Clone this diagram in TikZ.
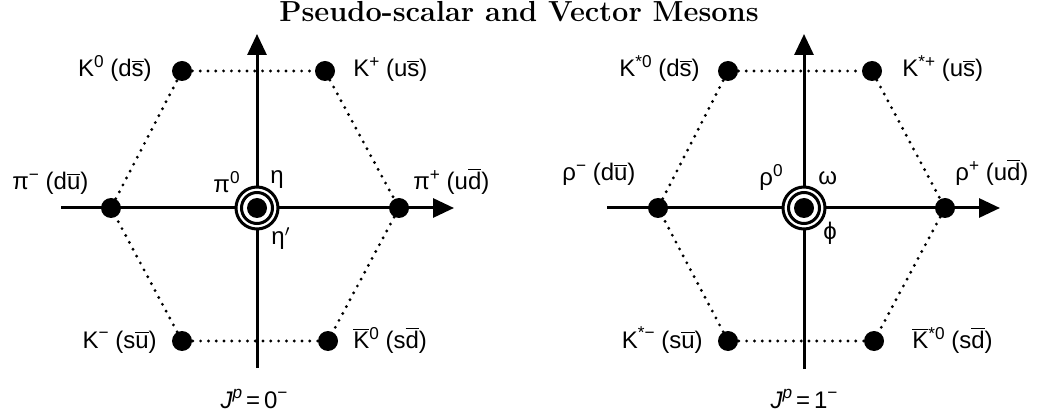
\documentclass[tikz,border=0pt]{standalone}
\usepackage{fontspec}
\usepackage{tikz}
\usetikzlibrary{arrows.meta,positioning}
\newfontfamily\labfont{Liberation Sans}
\newcommand{\qbar}[1]{\ensuremath{\overline{\mbox{#1}}}}
\newcommand{\sups}[1]{\raisebox{4.8pt}{\fontsize{8.6}{10}\selectfont #1}}

\begin{document}
\begin{tikzpicture}[
  x=0.5pt, y=-0.5pt,
  meson/.style={circle, fill=black, inner sep=0pt, minimum size=10pt},
  ring/.style={circle, draw, fill=white, line width=1.5pt, inner sep=0pt},
  axis/.style={-{Triangle[length=10.5pt,width=9.5pt]}, line width=1.5pt},
  hexedge/.style={line width=1.6pt, line cap=round, dash pattern=on 0pt off 3.9pt},
  lab/.style={font=\labfont\fontsize{12}{14}\selectfont, inner sep=0pt}
]
\useasboundingbox (0,0) rectangle (1037,416);

\node[font=\bfseries\fontsize{14.5}{17}\selectfont, anchor=base] (title) at (519,22) {Pseudo-scalar and Vector Mesons};

% pseudo-scalar nonet
\coordinate (xl0) at (61,208);
\coordinate (xl1) at (454,208);
\coordinate (yl0) at (257,368);
\coordinate (yl1) at (257,34);

\node[meson] (K0) at (182,71) {};
\node[meson] (Kp) at (325,71) {};
\node[meson] (pim) at (111,208) {};
\node[meson] (pip) at (399,208) {};
\node[meson] (Km) at (182,341) {};
\node[meson] (K0b) at (328,341) {};

\draw[hexedge] (K0) -- (Kp) -- (pip) -- (K0b) -- (Km) -- (pim) -- (K0);
\draw[axis] (xl0) -- (xl1);
\draw[axis] (yl0) -- (yl1);

\node[ring, minimum size=21pt] (etap) at (257,208) {};
\node[ring, minimum size=15.5pt] (eta) at (257,208) {};
\node[meson] (pi0) at (257,208) {};

\node[lab, anchor=base east] (lK0) at (152,77) {K\sups{0} (d\qbar{s})};
\node[lab, anchor=base west] (lKp) at (353,77) {K\sups{+} (u\qbar{s})};
\node[lab, anchor=base west] (lpim) at (12,190) {π\sups{−} (d\qbar{u})};
\node[lab, anchor=base west] (lpip) at (413,190) {π\sups{+} (u\qbar{d})};
\node[lab, anchor=base east] (lpi0) at (240,193) {π\sups{0}};
\node[lab, anchor=base west] (leta) at (270,184) {η};
\node[lab, anchor=base west] (letap) at (271,245) {η$'$};
\node[lab, anchor=base east] (lKm) at (157,348) {K\sups{−} (s\qbar{u})};
\node[lab, anchor=base west] (lK0b) at (353,349) {\qbar{K}\sups{0} (s\qbar{d})};
\node[lab, anchor=base] (lJ0) at (254,408) {{\itshape J}\sups{\itshape p}\,=\,0\sups{−}};

% vector nonet
\coordinate (xr0) at (607,208);
\coordinate (xr1) at (1000,208);
\coordinate (yr0) at (804,369);
\coordinate (yr1) at (804,34);

\node[meson] (Ks0) at (728,71) {};
\node[meson] (Ksp) at (872,71) {};
\node[meson] (rhom) at (658,208) {};
\node[meson] (rhop) at (945,208) {};
\node[meson] (Ksm) at (728,341) {};
\node[meson] (Ks0b) at (874,341) {};

\draw[hexedge] (Ks0) -- (Ksp) -- (rhop) -- (Ks0b) -- (Ksm) -- (rhom) -- (Ks0);
\draw[axis] (xr0) -- (xr1);
\draw[axis] (yr0) -- (yr1);

\node[ring, minimum size=21pt] (phi) at (804,208) {};
\node[ring, minimum size=15.5pt] (omega) at (804,208) {};
\node[meson] (rho0) at (804,208) {};

\node[lab, anchor=base east] (lKs0) at (700,77) {K\sups{*0} (d\qbar{s})};
\node[lab, anchor=base west] (lKsp) at (902,77) {K\sups{*+} (u\qbar{s})};
\node[lab, anchor=base west] (lrhom) at (562,181) {ρ\sups{−} (d\qbar{u})};
\node[lab, anchor=base west] (lrhop) at (955,181) {ρ\sups{+} (u\qbar{d})};
\node[lab, anchor=base east] (lrho0) at (783,186) {ρ\sups{0}};
\node[lab, anchor=base west] (lomega) at (818,185) {ω};
\node[lab, anchor=base west] (lphi) at (823,240) {ϕ};
\node[lab, anchor=base east] (lKsm) at (703,348) {K\sups{*−} (s\qbar{u})};
\node[lab, anchor=base west] (lKs0b) at (912,349) {\qbar{K}\sups{*0} (s\qbar{d})};
\node[lab, anchor=base] (lJ1) at (804,408) {{\itshape J}\sups{\itshape p}\,=\,1\sups{−}};
\end{tikzpicture}
\end{document}
